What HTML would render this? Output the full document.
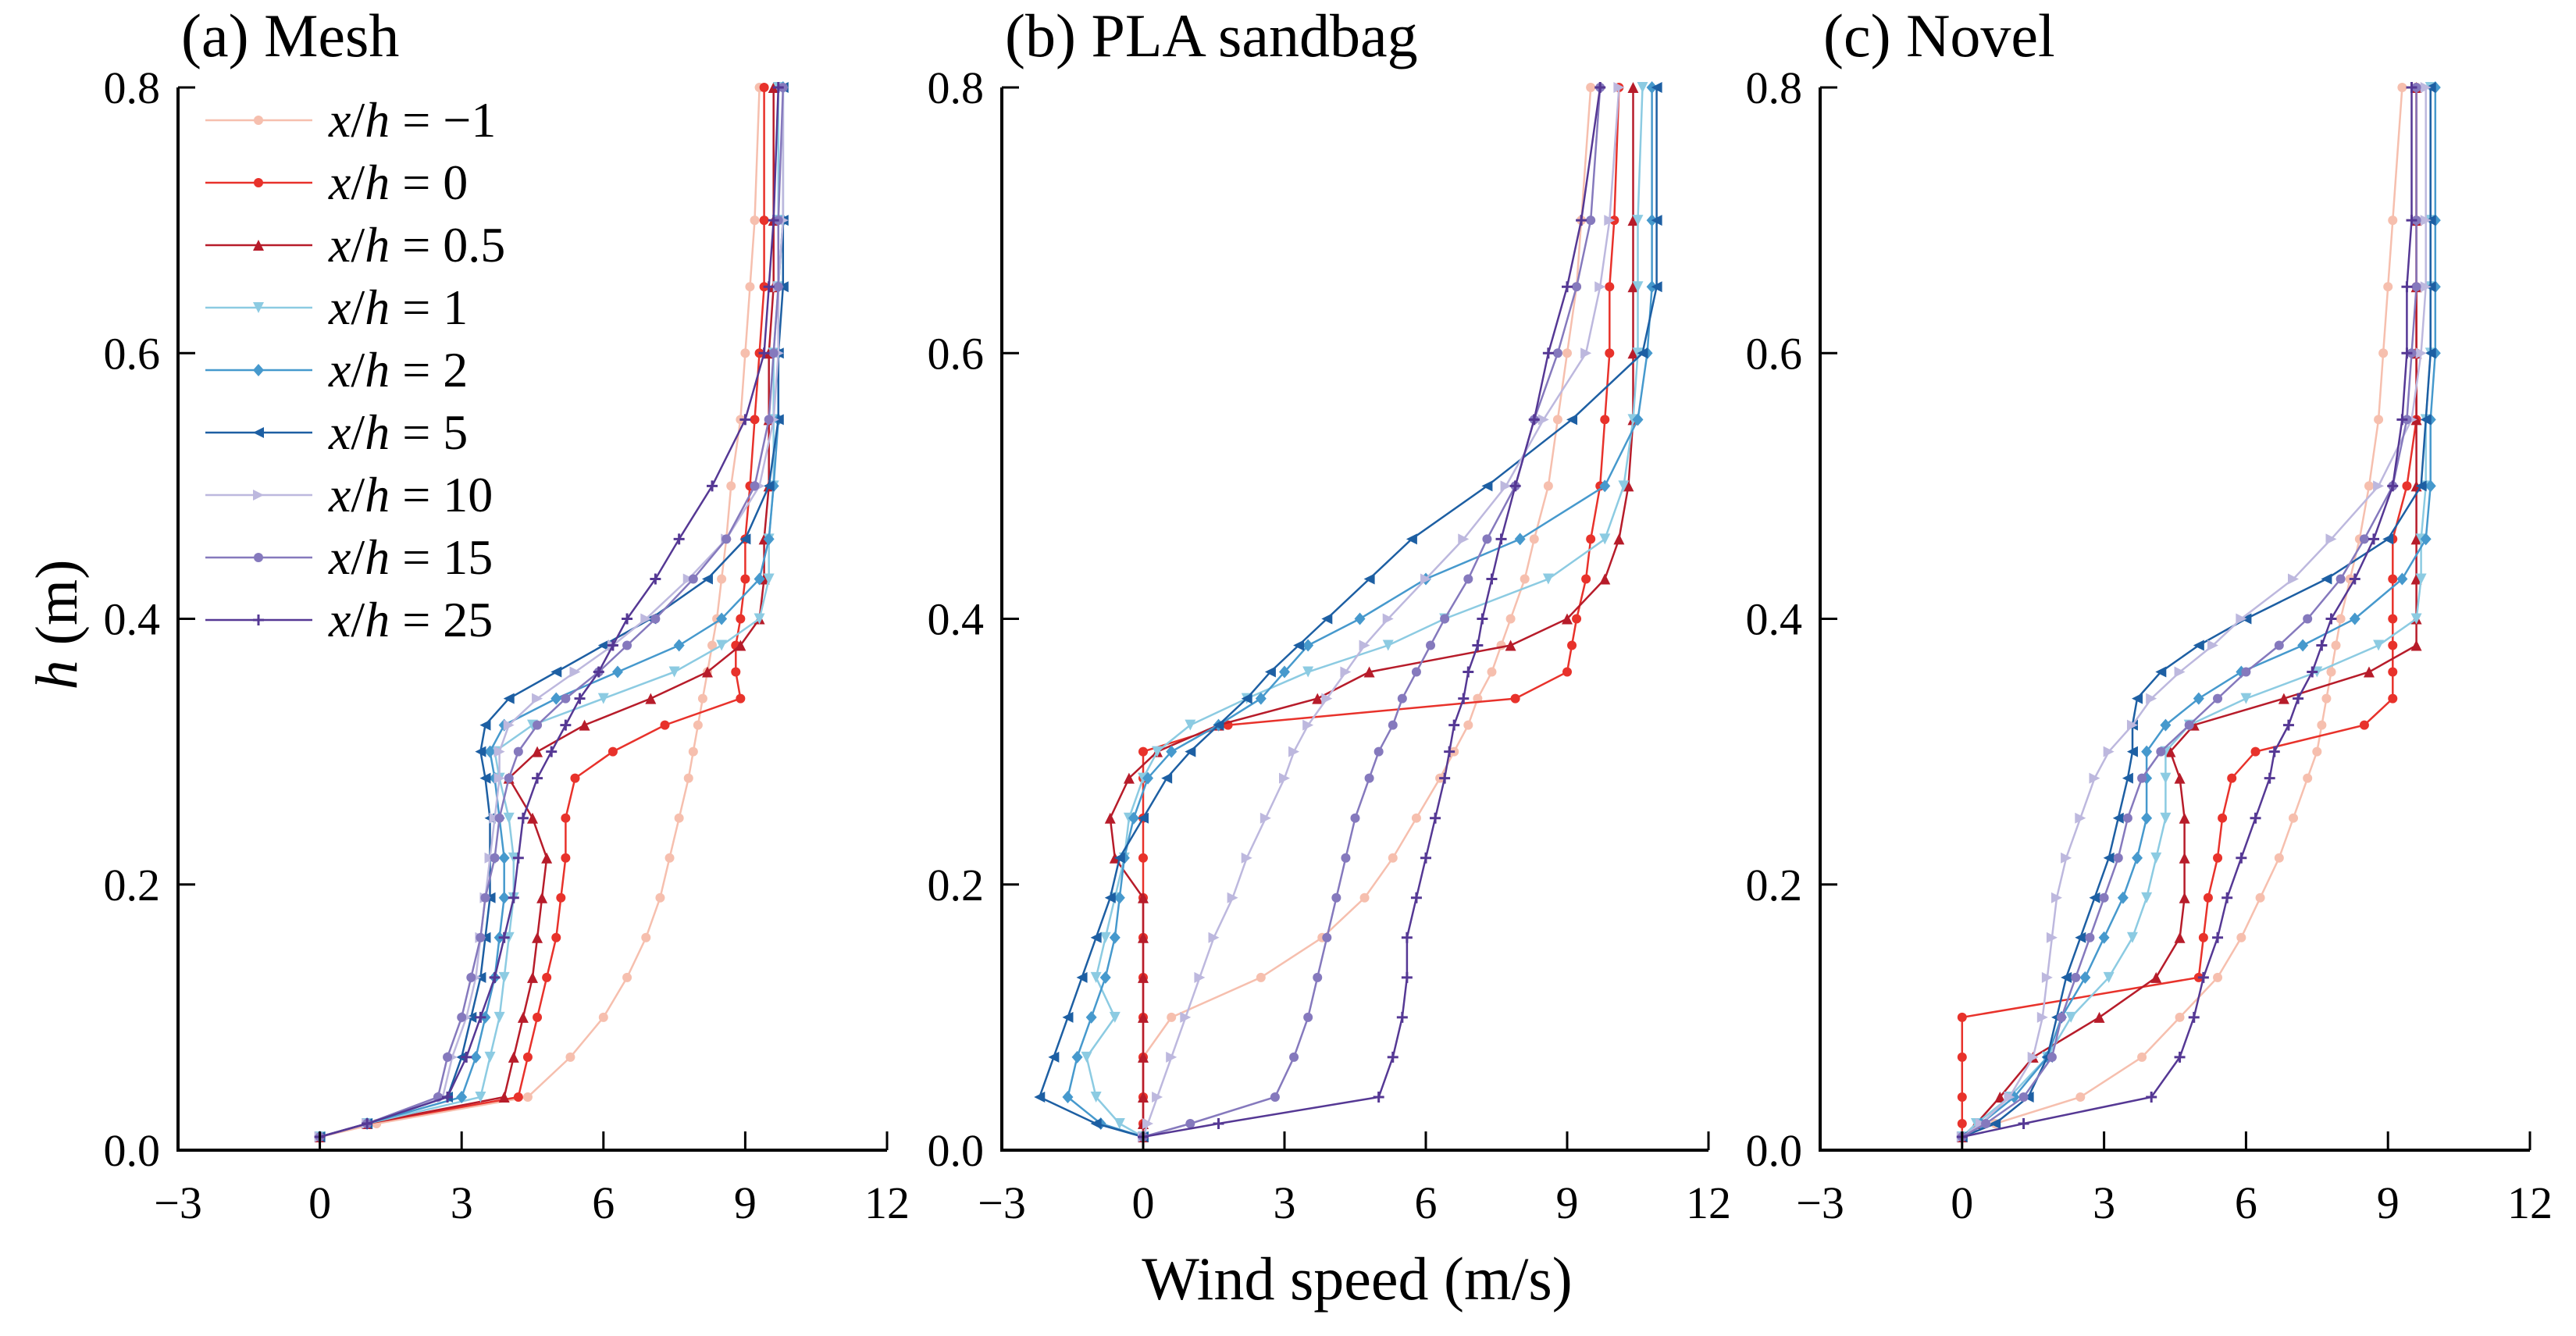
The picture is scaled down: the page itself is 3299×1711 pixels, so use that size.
<!DOCTYPE html>
<html><head><meta charset="utf-8"><style>
html,body{margin:0;padding:0;background:#fff;}
svg{display:block;font-family:"Liberation Serif","DejaVu Serif",serif;}
</style></head><body>
<svg id="chart" width="3299" height="1711" viewBox="0 0 3299 1711" xmlns="http://www.w3.org/2000/svg">
<g id="root"></g>
<text x="0" y="0" transform="translate(98,800) rotate(-90)" text-anchor="middle" font-size="76"><tspan font-style="italic">h</tspan> (m)</text>
<text x="1738" y="1664" text-anchor="middle" font-size="78">Wind speed (m/s)</text>
</svg>
<script>
const H = [0.01,0.02,0.04,0.07,0.10,0.13,0.16,0.19,0.22,0.25,0.28,0.30,0.32,0.34,0.36,0.38,0.40,0.43,0.46,0.50,0.55,0.60,0.65,0.70,0.80];
const seriesLabels = ["\u22121","0","0.5","1","2","5","10","15","25"];
const xTicks = [-3,0,3,6,9,12];
const yTicks = [0.0,0.2,0.4,0.6,0.8];
const panelTitles = ["(a) Mesh","(b) PLA sandbag","(c) Novel"];
const meshU = [
 [0,1.2,4.4,5.3,6.0,6.5,6.9,7.2,7.4,7.6,7.8,7.9,8.0,8.1,8.2,8.3,8.4,8.5,8.6,8.7,8.9,9.0,9.1,9.2,9.3],
 [0,1.0,4.2,4.4,4.6,4.8,5.0,5.1,5.2,5.2,5.4,6.2,7.3,8.9,8.8,8.8,8.9,9.0,9.0,9.1,9.2,9.3,9.4,9.4,9.4],
 [0,1.0,3.9,4.1,4.3,4.5,4.6,4.7,4.8,4.5,4.0,4.6,5.6,7.0,8.2,8.9,9.3,9.4,9.4,9.5,9.5,9.5,9.6,9.6,9.6],
 [0,1.0,3.4,3.6,3.8,3.9,4.0,4.1,4.1,4.0,3.8,3.7,4.5,6.0,7.5,8.5,9.3,9.5,9.5,9.6,9.6,9.6,9.7,9.7,9.7],
 [0,1.0,3.0,3.3,3.5,3.7,3.8,3.9,3.9,3.8,3.7,3.6,3.9,5.0,6.3,7.6,8.5,9.3,9.5,9.6,9.7,9.7,9.7,9.8,9.8],
 [0,1.0,2.7,3.0,3.2,3.4,3.5,3.6,3.6,3.6,3.5,3.4,3.5,4.0,5.0,6.0,7.0,8.2,9.0,9.5,9.7,9.7,9.8,9.8,9.8],
 [0,1.0,2.6,2.8,3.1,3.3,3.4,3.5,3.6,3.7,3.8,3.8,4.0,4.6,5.4,6.2,6.9,7.8,8.6,9.3,9.6,9.7,9.7,9.8,9.8],
 [0,1.0,2.5,2.7,3.0,3.2,3.4,3.5,3.7,3.8,4.0,4.2,4.6,5.2,5.9,6.5,7.1,7.9,8.6,9.2,9.5,9.6,9.7,9.7,9.8],
 [0,1.0,2.7,3.1,3.4,3.7,3.9,4.1,4.2,4.3,4.6,4.9,5.2,5.5,5.9,6.2,6.5,7.1,7.6,8.3,9.0,9.4,9.5,9.6,9.7]
];
const plaU = [
 [0,0,0,0,0.6,2.5,3.8,4.7,5.3,5.8,6.3,6.6,6.9,7.1,7.4,7.6,7.8,8.1,8.3,8.6,8.8,9.0,9.2,9.3,9.5],
 [0,0,0,0,0,0,0,0,0,0,0,0,1.8,7.9,9.0,9.1,9.2,9.4,9.5,9.7,9.8,9.9,9.9,10.0,10.1],
 [0,0,0,0,0,0,0,0,-0.6,-0.7,-0.3,0.3,1.6,3.7,4.8,7.8,9.0,9.8,10.1,10.3,10.4,10.4,10.4,10.4,10.4],
 [0,-0.5,-1.0,-1.2,-0.6,-1.0,-0.8,-0.6,-0.4,-0.3,0,0.3,1.0,2.2,3.5,5.2,6.4,8.6,9.8,10.2,10.4,10.5,10.5,10.5,10.6],
 [0,-0.9,-1.6,-1.4,-1.1,-0.8,-0.6,-0.5,-0.4,-0.2,0.1,0.6,1.6,2.5,3.0,3.5,4.6,6.0,8.0,9.8,10.5,10.7,10.8,10.8,10.8],
 [0,-1.0,-2.2,-1.9,-1.6,-1.3,-1.0,-0.7,-0.5,0,0.5,1.0,1.6,2.2,2.7,3.3,3.9,4.8,5.7,7.3,9.1,10.6,10.9,10.9,10.9],
 [0,0.1,0.3,0.6,0.9,1.2,1.5,1.9,2.2,2.6,3.0,3.2,3.5,3.9,4.3,4.7,5.2,6.0,6.8,7.7,8.5,9.4,9.7,9.9,10.1],
 [0,1.0,2.8,3.2,3.5,3.7,3.9,4.1,4.3,4.5,4.8,5.0,5.3,5.5,5.8,6.1,6.4,6.9,7.3,7.9,8.3,8.8,9.2,9.5,9.7],
 [0,1.6,5.0,5.3,5.5,5.6,5.6,5.8,6.0,6.2,6.4,6.5,6.6,6.8,6.9,7.1,7.2,7.4,7.6,7.9,8.3,8.6,9.0,9.3,9.7]
];
const novelU = [
 [0,0.7,2.5,3.8,4.6,5.4,5.9,6.3,6.7,7.0,7.3,7.5,7.6,7.7,7.8,7.9,8.0,8.2,8.4,8.6,8.8,8.9,9.0,9.1,9.3],
 [0,0,0,0,0,5.0,5.1,5.2,5.4,5.5,5.7,6.2,8.5,9.1,9.1,9.1,9.1,9.1,9.1,9.4,9.6,9.6,9.6,9.6,9.6],
 [0,0.3,0.8,1.5,2.9,4.1,4.6,4.7,4.7,4.7,4.6,4.4,4.9,6.8,8.6,9.6,9.6,9.6,9.6,9.6,9.6,9.6,9.6,9.6,9.6],
 [0,0.3,1.0,1.8,2.3,3.1,3.6,3.9,4.1,4.3,4.3,4.3,4.8,6.0,7.5,8.8,9.6,9.7,9.7,9.8,9.8,9.9,9.9,9.9,9.9],
 [0,0.4,1.1,1.8,2.1,2.6,3.0,3.4,3.7,3.9,3.9,3.9,4.3,5.0,5.9,7.2,8.3,9.3,9.8,9.9,9.9,10.0,10.0,10.0,10.0],
 [0,0.7,1.4,1.8,2.0,2.2,2.5,2.8,3.1,3.3,3.5,3.6,3.6,3.7,4.2,5.0,6.0,7.7,9.0,9.7,9.8,9.9,9.9,9.9,9.9],
 [0,0.4,1.0,1.5,1.7,1.8,1.9,2.0,2.2,2.5,2.8,3.1,3.6,4.0,4.6,5.3,5.9,7.0,7.8,8.8,9.5,9.7,9.8,9.8,9.8],
 [0,0.5,1.3,1.9,2.1,2.4,2.7,3.0,3.3,3.5,3.8,4.2,4.8,5.4,6.0,6.7,7.3,8.0,8.5,9.1,9.4,9.5,9.6,9.6,9.6],
 [0,1.3,4.0,4.6,4.9,5.1,5.4,5.6,5.9,6.2,6.5,6.6,6.9,7.1,7.4,7.6,7.8,8.3,8.7,9.1,9.3,9.4,9.4,9.5,9.5]
];
const colors = ["#f6bfae","#e8322b","#b71c2a","#8ccbe2","#4699cd","#1d5fa3","#bdb8de","#8579bd","#553894"];
const markers = ["circle","circle","tri-up","tri-down","diamond","tri-left","tri-right","circle","plus"];
const panels = [
 {x0:228,x1:1136,u:meshU,labX:205,name:"mesh"},
 {x0:1283,x1:2188,u:plaU,labX:1260,name:"pla-sandbag"},
 {x0:2331,x1:3240,u:novelU,labX:2308,name:"novel"}
];
const Y0=1473, Y1=112;
const NS="http://www.w3.org/2000/svg";
const root=document.getElementById('root');
function mk(tag,attrs,parent){const e=document.createElementNS(NS,tag);for(const k in attrs)e.setAttribute(k,attrs[k]);(parent||root).appendChild(e);return e;}
function yS(h){return Y0+(Y1-Y0)*(h/0.8);}
function marker(type,x,y,c,parent){
 const s=7;let e;
 if(type==="circle"){e=mk('circle',{cx:x,cy:y,r:6,fill:c},parent);}
 else if(type==="plus"){e=mk('path',{d:`M${x-7},${y}H${x+7}M${x},${y-7}V${y+7}`,stroke:c,'stroke-width':3},parent);}
 else{let p;
  if(type==="tri-up")p=[[x,y-s],[x+s,y+s],[x-s,y+s]];
  else if(type==="tri-down")p=[[x,y+s],[x+s,y-s],[x-s,y-s]];
  else if(type==="tri-left")p=[[x-s,y],[x+s,y-s],[x+s,y+s]];
  else if(type==="tri-right")p=[[x+s,y],[x-s,y-s],[x-s,y+s]];
  else p=[[x,y-s-1],[x+s,y],[x,y+s+1],[x-s,y]];
  e=mk('polygon',{points:p.map(q=>q.join(',')).join(' '),fill:c},parent);}
 
 
}
panels.forEach((P,pi)=>{
 const xS=u=>P.x0+(P.x1-P.x0)*(u+3)/15;
 const g=mk('g',{});
 
 
 const t=mk('text',{x:P.x0+4,y:72,'font-size':78},g);t.textContent=panelTitles[pi];
 
 
 P.u.forEach((arr,si)=>{
  const sg=mk('g',{},g);
  
  
  const pts=arr.map((u,i)=>xS(u).toFixed(1)+','+yS(H[i]).toFixed(1)).join(' ');
  mk('polyline',{points:pts,fill:'none',stroke:colors[si],'stroke-width':2.5},sg);
  arr.forEach((u,i)=>marker(markers[si],xS(u),yS(H[i]),colors[si],sg));
 });
 const ax=mk('path',{d:`M${P.x0},${Y1}V${Y0}H${P.x1}`,fill:'none',stroke:'#000','stroke-width':4},g);
 
 
 xTicks.forEach(v=>{
  const x=xS(v);
  mk('line',{x1:x,x2:x,y1:Y0,y2:Y0-24,stroke:'#000','stroke-width':3},g);
  const l=mk('text',{x:x,y:1560,'font-size':58,'text-anchor':'middle'},g);
  l.textContent=v<0?'\u2212'+(-v):String(v);
  
  
 });
 yTicks.forEach(v=>{
  const y=yS(v);
  mk('line',{x1:P.x0,x2:P.x0+22,y1:y,y2:y,stroke:'#000','stroke-width':3},g);
  const l=mk('text',{x:P.labX,y:y+20,'font-size':58,'text-anchor':'end'},g);
  l.textContent=v.toFixed(1);
  
  
 });
});
const lg=mk('g',{});


seriesLabels.forEach((lab,i)=>{
 const y=154+80*i;
 const e=mk('g',{},lg);
 
 
 mk('line',{x1:263,x2:400,y1:y,y2:y,stroke:colors[i],'stroke-width':2.5},e);
 marker(markers[i],331,y,colors[i],e);
 const t=mk('text',{x:421,y:y+21,'font-size':64},e);
 t.innerHTML='<tspan font-style="italic">x</tspan>/<tspan font-style="italic">h</tspan> = '+lab;
});
</script>
</body></html>
